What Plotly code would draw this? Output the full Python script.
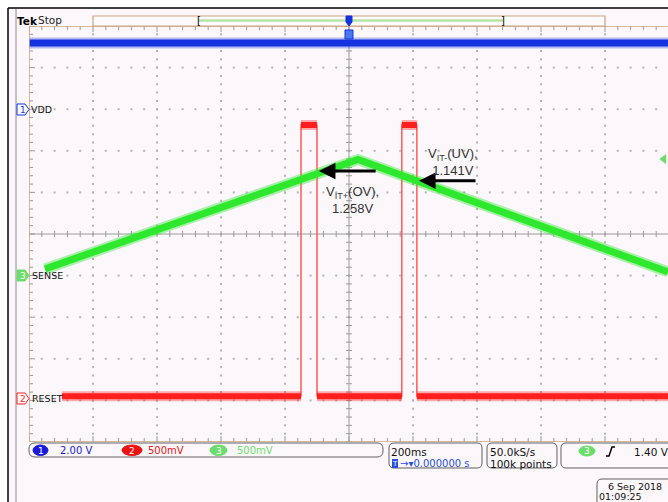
import numpy as np
import plotly.graph_objects as go

W, H = 668, 502

# ---- acquisition settings -------------------------------------------------
time_per_div = 200.0          # ms / div
n_xdiv, n_ydiv = 10, 10

# channel vertical settings: volts per division and ground marker (divisions)
ch1_scale, ch1_pos = 2.0, 3.0     # VDD
ch2_scale, ch2_pos = 0.5, -4.0    # RESET
ch3_scale, ch3_pos = 0.5, -1.0    # SENSE
trigger_level = 1.40              # V on CH3, rising edge

# ---- waveforms (time in ms, values in volts) -------------------------------
vdd_t = [-1000, 997]
vdd_v = [3.18, 3.18]

sense_t = [-950, 28, 997]
sense_v = [0.08, 1.395, 0.044]

reset_t = [-897, -150, -150, -100, -100, 165, 165, 212, 212, 997]
reset_v = [0.05, 0.05, 3.31, 3.31, 0.05, 0.05, 3.31, 3.31, 0.05, 0.05]

# threshold call-outs: (label, threshold volts, arrow head time, arrow tail time)
thr_ov = ("V<sub>IT+</sub>(OV),<br>1.258V", 1.258, -94, 88)
thr_uv = ("V<sub>IT-</sub>(UV),<br>1.141V", 1.141, 219, 400)

# ---- screen geometry (pixels) ---------------------------------------------
x_left, x_center = 29.0, 349.0
y_top, y_bottom = 26.0, 442.0
px_per_xdiv = 64.0

x_max = (W - x_center) / px_per_xdiv * time_per_div


def X(p):
    return p / W


def Y(p):
    return 1 - p / H


def to_div(v, scale, pos):
    return [val / scale + pos for val in v]


BG = "#fcf7fb"
TAN = "#c9a682"
GRID = "#b4b4b4"
TICK = "#9a9a9a"
BLUE = "#1432e0"
GREEN = "#2ee82e"
RED = "#ff1e1e"
LGREEN = "#6cdc6c"

fig = go.Figure()

# ---- graticule --------------------------------------------------------------
half_t = time_per_div * n_xdiv / 2
half_d = n_ydiv / 2
minor_t = np.arange(-half_t, half_t + 1e-6, time_per_div / 5)
minor_d = np.arange(-half_d, half_d + 1e-6, 0.2)

dot_x, dot_y = [], []
for k in range(-4, 5):
    if k == 0:
        continue
    t = k * time_per_div
    dot_x += [t] * len(minor_d)
    dot_y += list(minor_d)
for k in range(-4, 5):
    if k == 0:
        continue
    dot_x += list(minor_t)
    dot_y += [k] * len(minor_t)
fig.add_trace(go.Scatter(x=dot_x, y=dot_y, mode="markers",
                         marker=dict(size=2, color=GRID, symbol="square"),
                         hoverinfo="skip"))

tx = time_per_div / px_per_xdiv       # ms per pixel
ty = n_ydiv / (y_bottom - y_top)      # div per pixel
tk_x, tk_y = [], []
# ticks on the centre lines
for t in minor_t:
    tk_x += [t, t, None]
    tk_y += [-3 * ty, 3 * ty, None]
for d in minor_d:
    tk_x += [-3 * tx, 3 * tx, None]
    tk_y += [d, d, None]
# ticks on the frame edges
for t in minor_t:
    L = 6 if abs(t / time_per_div - round(t / time_per_div)) < 1e-6 else 4
    tk_x += [t, t, None, t, t, None]
    tk_y += [half_d, half_d - L * ty, None, -half_d, -half_d + L * ty, None]
for d in minor_d:
    L = 6 if abs(d - round(d)) < 1e-6 else 4
    tk_x += [-half_t, -half_t + L * tx, None]
    tk_y += [d, d, None]
fig.add_trace(go.Scatter(x=tk_x, y=tk_y, mode="lines",
                         line=dict(color=TICK, width=1), hoverinfo="skip"))

# centre cross-hair
fig.add_trace(go.Scatter(x=[-half_t, half_t, None, 0, 0],
                         y=[0, 0, None, -half_d, half_d], mode="lines",
                         line=dict(color="#9a9a9a", width=1), hoverinfo="skip"))

# ---- waveforms --------------------------------------------------------------
vdd_d = to_div(vdd_v, ch1_scale, ch1_pos)
fig.add_trace(go.Scatter(x=vdd_t, y=vdd_d, mode="lines",
                         line=dict(color=BLUE, width=11), opacity=0.3, hoverinfo="skip"))
fig.add_trace(go.Scatter(x=vdd_t, y=vdd_d, mode="lines",
                         line=dict(color=BLUE, width=7), hoverinfo="skip"))

reset_d = to_div(reset_v, ch2_scale, ch2_pos)
fig.add_trace(go.Scatter(x=reset_t, y=reset_d, mode="lines",
                         line=dict(color="#ff5a5a", width=1.5), hoverinfo="skip"))
hx, hy = [], []
for i in range(0, len(reset_t), 2):
    hx += [reset_t[i], reset_t[i + 1], None]
    hy += [reset_d[i], reset_d[i + 1], None]
fig.add_trace(go.Scatter(x=hx, y=hy, mode="lines",
                         line=dict(color=RED, width=10), opacity=0.35, hoverinfo="skip"))
fig.add_trace(go.Scatter(x=hx, y=hy, mode="lines",
                         line=dict(color=RED, width=6), hoverinfo="skip"))

sense_d = to_div(sense_v, ch3_scale, ch3_pos)
fig.add_trace(go.Scatter(x=sense_t, y=sense_d, mode="lines",
                         line=dict(color=GREEN, width=11), opacity=0.4, hoverinfo="skip"))
fig.add_trace(go.Scatter(x=sense_t, y=sense_d, mode="lines",
                         line=dict(color=GREEN, width=7), hoverinfo="skip"))

# trigger level indicator on the right edge
fig.add_trace(go.Scatter(x=[984], y=to_div([trigger_level], ch3_scale, ch3_pos),
                         mode="markers",
                         marker=dict(symbol="triangle-left", size=9, color=LGREEN),
                         hoverinfo="skip"))

# ---- shapes -----------------------------------------------------------------
shapes = []


def pline(x0, y0, x1, y1, color, width=1):
    shapes.append(dict(type="line", xref="paper", yref="paper",
                       x0=X(x0), y0=Y(y0), x1=X(x1), y1=Y(y1),
                       line=dict(color=color, width=width)))


def rrect(x0, y0, x1, y1, r, color="#606060", fill=None, width=1):
    pts = [("M", x0 + r, y0), ("L", x1 - r, y0), ("Q", x1, y0, x1, y0 + r),
           ("L", x1, y1 - r), ("Q", x1, y1, x1 - r, y1), ("L", x0 + r, y1),
           ("Q", x0, y1, x0, y1 - r), ("L", x0, y0 + r), ("Q", x0, y0, x0 + r, y0)]
    parts = []
    for p in pts:
        cmd, coords = p[0], p[1:]
        xy = []
        for i in range(0, len(coords), 2):
            xy.append(f"{X(coords[i]):.5f},{Y(coords[i + 1]):.5f}")
        parts.append(cmd + " " + " ".join(xy))
    shapes.append(dict(type="path", xref="paper", yref="paper",
                       path=" ".join(parts) + " Z",
                       line=dict(color=color, width=width),
                       fillcolor=fill if fill else "rgba(0,0,0,0)"))


def poly(points, color, fill=None, width=1):
    path = "M " + " L ".join(f"{X(a):.5f},{Y(b):.5f}" for a, b in points) + " Z"
    shapes.append(dict(type="path", xref="paper", yref="paper", path=path,
                       line=dict(color=color, width=width),
                       fillcolor=fill if fill else "rgba(0,0,0,0)"))


def ellipse(x0, y0, x1, y1, fill):
    shapes.append(dict(type="circle", xref="paper", yref="paper",
                       x0=X(x0), y0=Y(y0), x1=X(x1), y1=Y(y1),
                       line=dict(color=fill, width=1), fillcolor=fill))


# white margin and window frame
shapes.append(dict(type="rect", xref="paper", yref="paper", x0=0, x1=1, y0=Y(8), y1=1,
                   fillcolor="white", line=dict(width=0), layer="below"))
shapes.append(dict(type="rect", xref="paper", yref="paper", x0=0, x1=X(8), y0=0, y1=1,
                   fillcolor="white", line=dict(width=0), layer="below"))
pline(8, 8, 668, 8, "#000000", 1.5)
pline(8, 8, 8, 502, "#000000", 1.5)
pline(16, 9, 16, 502, "#8a8a8a", 1)

# graticule frame
shapes.append(dict(type="line", xref="x", yref="y", x0=-half_t, x1=-half_t,
                   y0=-half_d, y1=half_d, line=dict(color=TAN, width=1.5)))
shapes.append(dict(type="line", xref="x", yref="y", x0=-half_t, x1=half_t,
                   y0=half_d, y1=half_d, line=dict(color=TAN, width=1.5)))
shapes.append(dict(type="line", xref="x", yref="y", x0=-half_t, x1=half_t,
                   y0=-half_d, y1=-half_d, line=dict(color=TAN, width=1.5)))

# record-length bar
shapes.append(dict(type="rect", xref="paper", yref="paper", x0=X(93), x1=X(605),
                   y0=Y(26), y1=Y(16), fillcolor="#fdfafc", line=dict(color=TAN, width=1.2)))
pline(198, 20.5, 503, 20.5, "#b4e3a6", 2.5)

# trigger position marker (top centre)
poly([(346, 16), (352, 16), (352, 22), (349, 26), (346, 22)], BLUE, BLUE)
poly([(345, 30), (353, 30), (353, 39), (345, 39)], BLUE, "#4a78f0")

# channel ground markers
poly([(17, 104), (25, 104), (29, 109.5), (25, 115), (17, 115)], BLUE, "#ffffff")
poly([(17, 270), (25, 270), (29, 275.5), (25, 281), (17, 281)], LGREEN, LGREEN)
poly([(17, 393), (25, 393), (29, 398.5), (25, 404), (17, 404)], RED, "#ffffff")

# readout boxes
rrect(29, 443, 383, 457, 6)
rrect(389, 443, 482, 468, 5)
rrect(487, 443, 557, 468, 5)
rrect(561, 443, 675, 468, 5)
rrect(597, 479, 675, 508, 5)

ellipse(33, 445, 48, 455.5, "#1a1ad8")
ellipse(122, 445, 142, 455.5, "#ee1111")
ellipse(210, 445, 227, 455.5, LGREEN)
ellipse(579, 446, 595, 456, LGREEN)
shapes.append(dict(type="path", xref="paper", yref="paper",
                   path=f"M {X(606):.5f},{Y(456):.5f} L {X(609):.5f},{Y(456):.5f} "
                        f"L {X(612):.5f},{Y(447):.5f} L {X(615):.5f},{Y(447):.5f}",
                   line=dict(color="#000000", width=1.5)))
shapes.append(dict(type="rect", xref="paper", yref="paper", x0=X(392), x1=X(398),
                   y0=Y(468), y1=Y(459), fillcolor="#2a50e0", line=dict(width=0)))

# ---- text -------------------------------------------------------------------
ann = []


def txt(x, y, s, size=10, color="#000000", anchor="left", family="DejaVu Sans"):
    ann.append(dict(x=X(x), y=Y(y), xref="paper", yref="paper", text=s,
                    showarrow=False, xanchor=anchor, yanchor="middle",
                    borderpad=0, font=dict(family=family, size=size, color=color)))


txt(16, 21, "<b>Tek</b>", 10.5)
txt(37, 20.5, "Stop", 10.5, "#222222")
txt(196, 20.5, "[", 10, "#000000")
txt(500, 20.5, "]", 10, "#000000")

txt(23, 109.5, "1", 9, BLUE, "center")
txt(23, 275.5, "3", 9, "#ffffff", "center")
txt(23, 398.5, "2", 9, RED, "center")
txt(30, 109.5, "VDD", 9.5, "#111111")
txt(31, 275.5, "SENSE", 9.5, "#111111")
txt(31, 398.5, "RESET", 9.5, "#111111")

txt(40.5, 450.5, "1", 9, "#ffffff", "center")
txt(59, 450.5, "2.00 V", 10, "#2222cc")
txt(132, 450.5, "2", 9, "#ffffff", "center")
txt(147, 450.5, "500mV", 10, "#e01818")
txt(218.5, 450.5, "3", 9, "#ffffff", "center")
txt(236, 450.5, "500mV", 10, LGREEN)

txt(390, 451.5, "200ms", 10.5, "#111111")
txt(395, 464, "T", 7, "#ffffff", "center")
txt(399, 463.5, "→▾0.000000 s", 10, "#2a50e0")
txt(489, 451.5, "50.0kS/s", 10.5, "#111111")
txt(489, 463.5, "100k points", 10.5, "#111111")
txt(587, 451, "3", 9, "#ffffff", "center")
txt(633, 451.5, "1.40 V", 10.5, "#111111")
txt(607, 486.5, "6 Sep 2018", 9.5, "#111111")
txt(598, 496.5, "01:09:25", 9.5, "#111111")

# threshold call-outs with arrows pointing at the SENSE ramp
for label, v, t_head, t_tail in (thr_ov, thr_uv):
    yd = v / ch3_scale + ch3_pos
    ann.append(dict(x=t_head, y=yd, ax=t_tail, ay=yd, xref="x", yref="y",
                    axref="x", ayref="y", text="", showarrow=True,
                    arrowhead=2, arrowsize=1.1, arrowwidth=3, arrowcolor="#000000",
                    standoff=0))
ann.append(dict(x=12, y=0.82, xref="x", yref="y", text=thr_ov[0], showarrow=False,
                align="center", font=dict(family="Liberation Sans", size=13, color="#333333")))
ann.append(dict(x=325, y=1.73, xref="x", yref="y", text=thr_uv[0], showarrow=False,
                align="center", font=dict(family="Liberation Sans", size=13, color="#333333")))

fig.update_layout(
    width=W, height=H, margin=dict(l=0, r=0, t=0, b=0),
    paper_bgcolor=BG, plot_bgcolor=BG, showlegend=False,
    xaxis=dict(domain=[X(x_left), 1.0], range=[-half_t, x_max], visible=False,
               fixedrange=True),
    yaxis=dict(domain=[Y(y_bottom), Y(y_top)], range=[-half_d, half_d], visible=False,
               fixedrange=True),
    shapes=shapes, annotations=ann,
)

fig.write_html("out.html")
